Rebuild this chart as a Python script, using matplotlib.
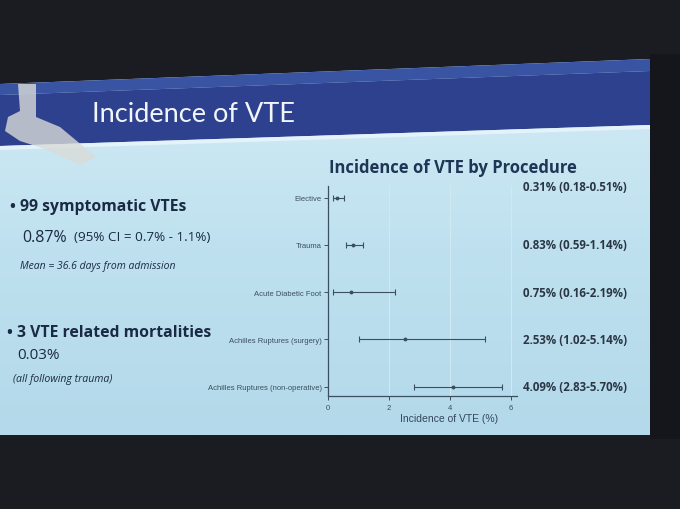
import numpy as np
import matplotlib
matplotlib.use('Agg')
import matplotlib.pyplot as plt
from matplotlib.patches import Polygon

# data
procedures = ['Elective', 'Trauma', 'Acute Diabetic Foot',
              'Achilles Ruptures (surgery)', 'Achilles Ruptures (non-operative)']
incidence = [0.31, 0.83, 0.75, 2.53, 4.09]
ci_low = [0.18, 0.59, 0.16, 1.02, 2.83]
ci_high = [0.51, 1.14, 2.19, 5.14, 5.70]
x_ticks = [0, 2, 4, 6]

W, H = 680, 510
fig = plt.figure(figsize=(6.8, 5.1), dpi=100)
fig.patch.set_facecolor('#1b1c22')

# background "room" + slide, in pixel coords
bg = fig.add_axes([0, 0, 1, 1])
bg.set_xlim(0, W)
bg.set_ylim(H, 0)
bg.axis('off')

slide = Polygon([(0, 85), (650, 60), (650, 436), (0, 436)], closed=True,
                facecolor='none', edgecolor='none')
bg.add_patch(slide)
grad = np.linspace(0, 1, 256).reshape(-1, 1)
cmap = matplotlib.colors.LinearSegmentedColormap.from_list(
    'sl', ['#d3ecf6', '#bfe1ef', '#b3d9ea'])
im = bg.imshow(grad, extent=(0, 650, 436, 60), cmap=cmap, aspect='auto', zorder=1)
im.set_clip_path(slide)

# header band
bg.add_patch(Polygon([(0, 85), (650, 60), (650, 72), (0, 96)], closed=True,
                     facecolor='#3a54a4', edgecolor='none', zorder=2))
bg.add_patch(Polygon([(0, 96), (650, 72), (650, 126), (0, 147)], closed=True,
                     facecolor='#2d418e', edgecolor='none', zorder=2))
# light strip under the header
bg.add_patch(Polygon([(0, 147), (650, 126), (650, 130), (0, 151)], closed=True,
                     facecolor='#e4f2f9', edgecolor='none', zorder=2))
# rough foot skeleton silhouette (top left)
bg.add_patch(Polygon([(18, 85), (36, 85), (36, 118), (60, 128), (96, 158),
                      (80, 166), (45, 150), (20, 142), (5, 132), (8, 118),
                      (20, 112)], closed=True,
                     facecolor='#d9dbd8', edgecolor='none', alpha=0.8, zorder=2))
# dark right edge of screen
bg.add_patch(Polygon([(650, 55), (680, 55), (680, 440), (650, 440)], closed=True,
                     facecolor='#15161b', edgecolor='none', zorder=2))

sans = ['Open Sans', 'DejaVu Sans']
navy = '#1b2a44'

bg.text(92, 115, 'Incidence of VTE', fontsize=19.5, color='#f2f5fb',
        family=['Lato', 'DejaVu Sans'], va='center', ha='left', zorder=3)

bg.text(10, 207, '• 99 symptomatic VTEs', fontsize=11.3, fontweight='bold',
        color=navy, family=sans, va='center', zorder=3)
bg.text(22, 238, '0.87%', fontsize=11.5, color=navy, family=sans,
        va='center', zorder=3)
bg.text(74, 238, '(95% CI = 0.7% - 1.1%)', fontsize=9.7, color=navy,
        family=sans, va='center', zorder=3)
bg.text(20, 267, 'Mean = 36.6 days from admission', fontsize=7.5, style='italic',
        color=navy, family=sans, va='center', zorder=3)
bg.text(7, 333, '• 3 VTE related mortalities', fontsize=11.3, fontweight='bold',
        color=navy, family=sans, va='center', zorder=3)
bg.text(17, 356, '0.03%', fontsize=11, color=navy, family=sans,
        va='center', zorder=3)
bg.text(13, 380, '(all following trauma)', fontsize=7.6, style='italic',
        color=navy, family=sans, va='center', zorder=3)

bg.text(453, 168, 'Incidence of VTE by Procedure', fontsize=12, fontweight='bold',
        color='#1e3555', family=sans, ha='center', va='center', zorder=3)

# forest plot
ax = fig.add_axes([328 / W, 1 - 397 / H, (517 - 328) / W, (397 - 187) / H])
ax.set_facecolor('none')
ypos = np.arange(len(procedures))
err = [np.array(incidence) - np.array(ci_low), np.array(ci_high) - np.array(incidence)]
ax.errorbar(incidence, ypos, xerr=err, fmt='o', color='#3b4f60', ecolor='#3b4f60',
            elinewidth=0.8, capsize=2.2, capthick=0.8, markersize=1.8)
ax.set_ylim(len(procedures) - 1 + 0.2, -0.25)
ax.set_xlim(0, 6.2)
ax.set_xticks(x_ticks)
ax.set_yticks(ypos)
ax.set_yticklabels(procedures)
for xt in x_ticks[1:]:
    ax.axvline(xt, color='#d0e8f2', lw=0.8, zorder=0)
for s in ['top', 'right']:
    ax.spines[s].set_visible(False)
for s in ['left', 'bottom']:
    ax.spines[s].set_color('#3b4f60')
    ax.spines[s].set_linewidth(0.9)
ax.tick_params(axis='both', labelsize=5.5, colors='#3b4f60', length=3, width=0.7,
               pad=1.5)
ax.tick_params(axis='x', pad=3)
for lab in ax.get_yticklabels() + ax.get_xticklabels():
    lab.set_family('Liberation Sans')
ax.set_xlabel('Incidence of VTE (%)', fontsize=7.5, color='#34475a',
              family='Liberation Sans')
ax.xaxis.set_label_coords(0.64, -0.082)

for i, (m, lo, hi) in enumerate(zip(incidence, ci_low, ci_high)):
    ax.annotate(f'{m:.2f}% ({lo:.2f}-{hi:.2f}%)', xy=(1, i), xycoords=('axes fraction', 'data'),
                xytext=(4, 8 if i == 0 else 0), textcoords='offset points',
                fontsize=8.3, fontweight='bold', color='#2b3645', family=sans,
                va='center', ha='left')

fig.savefig('out.png', dpi=100, facecolor=fig.get_facecolor())
